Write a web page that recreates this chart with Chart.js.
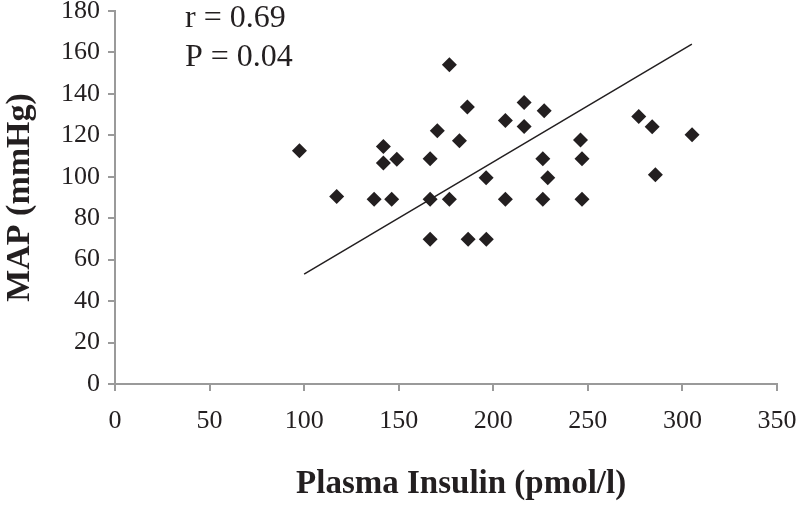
<!DOCTYPE html>
<html>
<head>
<meta charset="utf-8">
<script src="https://cdn.jsdelivr.net/npm/chart.js@4"></script>
<style>
  html, body { margin: 0; padding: 0; background: #fff; }
  #wrap { width: 798px; height: 509px; }
</style>
</head>
<body>
<div id="wrap"><canvas id="myChart" width="798" height="509"></canvas></div>
<script>
// plasma insulin (pmol/l) vs MAP (mmHg)
const insulin = [97.5, 141.9, 141.9, 149, 117.2, 137, 146.3, 176.8, 186.3, 216.3, 226.9,
  206.4, 216.3, 170.4, 182.1, 276.9, 284, 305.1, 246.1, 166.6, 226.2, 246.9, 196.2,
  228.8, 285.7, 166.6, 176.8, 206.4, 226.2, 246.9, 166.6, 186.7, 196.3];
const map = [112.6, 114.6, 106.6, 108.5, 90.5, 89.2, 89.2, 154.1, 133.7, 135.9, 131.9,
  127.1, 124.3, 122.2, 117.4, 129.1, 124.2, 120.3, 117.7, 108.7, 108.7, 108.7, 99.5,
  99.5, 101, 89.2, 89.2, 89.2, 89.2, 89.2, 69.9, 69.9, 69.9];

// regression line end points
const trendX = [100, 305];
const trendY = [53, 164];

const xTicks = [0, 50, 100, 150, 200, 250, 300, 350];
const yTicks = [0, 20, 40, 60, 80, 100, 120, 140, 160, 180];
const statsText = ["r = 0.69", "P = 0.04"];
const xTitle = "Plasma Insulin (pmol/l)";
const yTitle = "MAP (mmHg)";

const ink = "#231f20";
const axisGrey = "#9a9a9a";
const serif = "'Liberation Serif', 'Times New Roman', serif";

const ctx = document.getElementById("myChart").getContext("2d");

const pts = insulin.map((v, i) => ({ x: v, y: map[i] }));
const trend = trendX.map((v, i) => ({ x: v, y: trendY[i] }));

// r and P in the upper left of the plot, plus the x axis title
const textPlugin = {
  id: "texts",
  afterDraw(chart) {
    const c = chart.ctx;
    const xs = chart.scales.x, ys = chart.scales.y;
    c.save();
    c.fillStyle = ink;
    c.font = "32px " + serif;
    c.textBaseline = "middle";
    c.textAlign = "left";
    c.fillText(statsText[0], xs.getPixelForValue(37), ys.getPixelForValue(176.5));
    c.fillText(statsText[1], xs.getPixelForValue(37), ys.getPixelForValue(157.5));
    // x title sits a little right of the plot centre in the original
    c.font = "bold 33px " + serif;
    c.textAlign = "center";
    c.textBaseline = "alphabetic";
    c.fillText(xTitle, xs.getPixelForValue(183), chart.height - 16);
    c.restore();
  }
};

const myChart = new Chart(ctx, {
  type: "scatter",
  data: {
    datasets: [
      {
        label: "MAP",
        data: pts,
        pointStyle: "rectRot",
        pointRadius: 7.5,
        pointBackgroundColor: ink,
        pointBorderWidth: 0,
      },
      {
        type: "line",
        label: "trend",
        data: trend,
        borderColor: ink,
        borderWidth: 1.5,
        pointRadius: 0,
        fill: false,
      },
    ],
  },
  options: {
    responsive: false,
    animation: false,
    layout: { padding: { top: 11, right: 21, left: 0, bottom: 0 } },
    plugins: {
      legend: { display: false },
      tooltip: { enabled: false },
    },
    scales: {
      x: {
        type: "linear",
        position: "bottom",
        min: 0,
        max: 350,
        afterBuildTicks: (s) => { s.ticks = xTicks.map((v) => ({ value: v })); },
        afterFit: (s) => { s.height = 125; s.paddingLeft = 0; s.paddingRight = 0; },
        border: { color: axisGrey, width: 2 },
        grid: { drawOnChartArea: false, color: axisGrey, lineWidth: 2, tickLength: 7 },
        ticks: { color: ink, font: { family: serif, size: 26 }, padding: 15, maxRotation: 0 },
      },
      y: {
        min: 0,
        max: 180,
        afterBuildTicks: (s) => { s.ticks = yTicks.map((v) => ({ value: v })); },
        afterFit: (s) => { s.width = 115; s.paddingTop = 0; s.paddingBottom = 0; },
        border: { color: axisGrey, width: 2 },
        grid: { drawOnChartArea: false, color: axisGrey, lineWidth: 2, tickLength: 7 },
        ticks: { color: ink, font: { family: serif, size: 26, lineHeight: 1 }, padding: 8 },
        title: {
          display: true,
          text: yTitle,
          color: ink,
          font: { family: serif, size: 34, weight: "bold" },
          padding: { top: 0, bottom: 0 },
        },
      },
    },
  },
  plugins: [textPlugin],
});
</script>
</body>
</html>
